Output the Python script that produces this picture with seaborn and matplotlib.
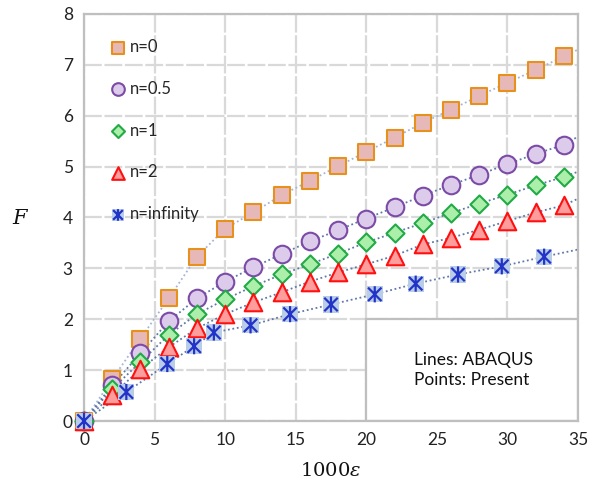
import matplotlib
matplotlib.use("Agg")
import matplotlib.pyplot as plt
import numpy as np
import pandas as pd
import seaborn as sns
from matplotlib.path import Path
from matplotlib.patches import Rectangle
from matplotlib.legend_handler import HandlerTuple

# ---- data -------------------------------------------------------------
strain = [0, 2, 4, 6, 8, 10, 12, 14, 16, 18, 20, 22, 24, 26, 28, 30, 32, 34]
f_n0 = [0, 0.82, 1.62, 2.41, 3.23, 3.78, 4.10, 4.44, 4.72, 5.01, 5.29, 5.57,
        5.86, 6.12, 6.39, 6.65, 6.90, 7.17]
f_n05 = [0, 0.70, 1.33, 1.96, 2.41, 2.74, 3.02, 3.28, 3.53, 3.75, 3.98, 4.20,
         4.43, 4.64, 4.84, 5.05, 5.25, 5.43]
f_n1 = [0, 0.63, 1.16, 1.69, 2.10, 2.39, 2.65, 2.88, 3.08, 3.29, 3.51, 3.70,
        3.89, 4.09, 4.27, 4.45, 4.63, 4.80]
f_n2 = [0, 0.51, 1.02, 1.45, 1.82, 2.10, 2.33, 2.53, 2.74, 2.92, 3.08, 3.25,
        3.47, 3.60, 3.76, 3.93, 4.10, 4.24]
strain_inf = [0, 3.0, 5.9, 7.8, 9.2, 11.8, 14.6, 17.5, 20.6, 23.5, 26.5, 29.6, 32.6]
f_ninf = [0, 0.57, 1.12, 1.47, 1.74, 1.88, 2.10, 2.29, 2.49, 2.70, 2.88, 3.04, 3.23]

# ABAQUS curves run on to the right edge of the plot
strain_end = 35
f_end = {"n=0": 7.30, "n=0.5": 5.59, "n=1": 4.90, "n=2": 4.37, "n=infinity": 3.37}

labels = ["n=0", "n=0.5", "n=1", "n=2", "n=infinity"]
x_ticks = [0, 5, 10, 15, 20, 25, 30, 35]
y_ticks = [0, 1, 2, 3, 4, 5, 6, 7, 8]

# ---- style ------------------------------------------------------------
sns.set_style("white")
plt.rcParams["font.family"] = ["Lato", "DejaVu Sans"]
plt.rcParams["mathtext.fontset"] = "dejavuserif"

fig = plt.figure(figsize=(5.98, 4.90), dpi=100)
ax = fig.add_axes([84 / 598, 1 - 421 / 490, (578 - 84) / 598, (421 - 14) / 490])

grid_col = "#d9d9d9"
ax.grid(True, color=grid_col, lw=1.6, linestyle=(0, (8, 1.2)))
ax.set_axisbelow(True)
for s in ax.spines.values():
    s.set_color("#bfbfbf")
    s.set_linewidth(1.6)

series = [
    ("n=0", strain, f_n0, dict(marker="s", s=125, facecolor="#e6b8b7", edgecolor="#e8901c", linewidth=1.5), "#a5b5d5"),
    ("n=0.5", strain, f_n05, dict(marker="o", s=160, facecolor="#dccbeb", edgecolor="#7b4ba6", linewidth=1.5), "#5f78a8"),
    ("n=1", strain, f_n1, dict(marker="D", s=85, facecolor="#abefab", edgecolor="#21aa45", linewidth=1.5), "#5f78a8"),
    ("n=2", strain, f_n2, dict(marker="^", s=160, facecolor="#ff9c9c", edgecolor="#ff1010", linewidth=1.5), "#5f78a8"),
]

handles = []
for name, xs, ys, mk, lc in series:
    lx = list(xs) + [strain_end]
    ly = list(ys) + [f_end[name]]
    sns.lineplot(x=lx, y=ly, ax=ax, color=lc, lw=1.3, linestyle=(0, (1, 1.5)),
                 sort=False, estimator=None, zorder=2, legend=False)
    h = ax.scatter(xs, ys, zorder=3, clip_on=False, **mk)
    handles.append(h)

# n = infinity: asterisk over a light blue square
lx = list(strain_inf) + [strain_end]
ly = list(f_ninf) + [f_end["n=infinity"]]
sns.lineplot(x=lx, y=ly, ax=ax, color="#5f78a8", lw=1.3, linestyle=(0, (1, 1.5)),
             sort=False, estimator=None, zorder=2, legend=False)
star = Path([(-1, -1), (1, 1), (-1, 1), (1, -1), (0, -1.2), (0, 1.2)],
            [Path.MOVETO, Path.LINETO, Path.MOVETO, Path.LINETO, Path.MOVETO, Path.LINETO])
h_bg = ax.scatter(strain_inf, f_ninf, marker="s", s=135, facecolor="#b9cde8",
                  edgecolor="none", zorder=3, clip_on=False)
h_st = ax.scatter(strain_inf, f_ninf, marker=star, s=135, facecolor="none",
                  edgecolor="#2233c8", linewidth=1.6, zorder=4, clip_on=False)
handles.append((h_bg, h_st))

# note box in the lower right corner
ax.add_patch(Rectangle((20, 0), 15, 2, facecolor="white", edgecolor="#bfbfbf",
                       lw=1.6, zorder=1.5))
ax.text(27.6, 1.0, "Lines: ABAQUS\nPoints: Present", ha="center", va="center",
        multialignment="left", fontsize=12.5, color="#111111", linespacing=1.3,
        zorder=5)

ax.set_xlim(0, 35)
ax.set_ylim(0, 8)
ax.set_xticks(x_ticks)
ax.set_yticks(y_ticks)
ax.tick_params(axis="both", length=0, labelsize=12.5, colors="#222222", pad=8)

ax.set_xlabel(r"$1000\varepsilon$", fontsize=14, color="#111111", labelpad=9)
ax.set_ylabel(r"$F$", fontsize=15, color="#111111", rotation=0, labelpad=30,
              va="center")

leg = ax.legend(handles, labels, loc="upper left", bbox_to_anchor=(0.035, 0.955),
                frameon=False, fontsize=12, labelspacing=1.55, handletextpad=0.1,
                markerscale=0.72, handlelength=1.2, borderaxespad=0,
                handler_map={tuple: HandlerTuple(ndivide=1)})

fig.savefig("out.png", dpi=100)
